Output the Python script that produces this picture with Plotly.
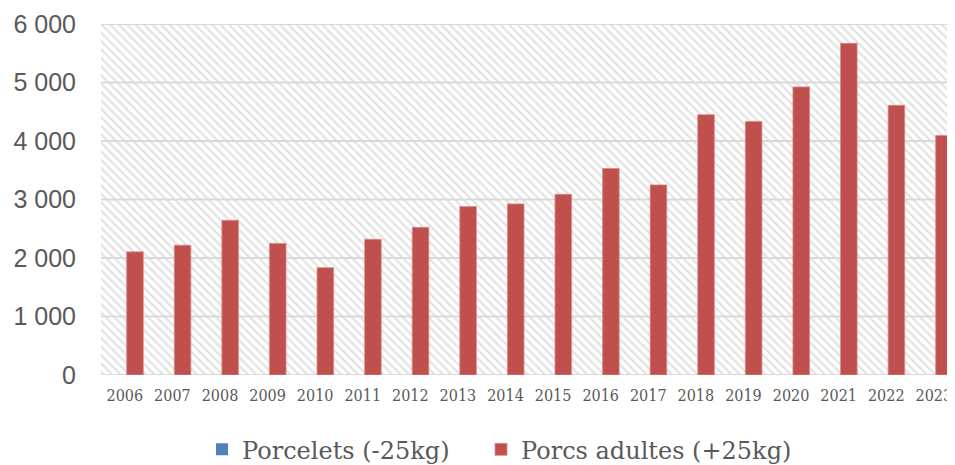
import plotly.graph_objects as go

years = ["2006", "2007", "2008", "2009", "2010", "2011", "2012", "2013", "2014",
         "2015", "2016", "2017", "2018", "2019", "2020", "2021", "2022", "2023"]
porcelets = [0, 0, 0, 0, 0, 0, 0, 0, 0, 0, 0, 0, 0, 0, 0, 0, 0, 0]
porcs_adultes = [2105, 2220, 2645, 2250, 1835, 2320, 2525, 2880, 2925,
                 3090, 3530, 3250, 4450, 4335, 4925, 5670, 4610, 4095]
y_ticks = [0, 1000, 2000, 3000, 4000, 5000, 6000]
y_tick_labels = ["0", "1 000", "2 000", "3 000", "4 000", "5 000", "6 000"]

TXT = "#595959"
GRID = "#d9d9d9"
n = len(years)
xpos = list(range(n))
y_max = y_ticks[-1]

fig = go.Figure()

# hatched plot background (base axes)
fig.add_trace(go.Bar(
    x=[-1], y=[y_max], base=0, width=[n + 2], offset=0,
    marker=dict(color="white", line=dict(width=0),
                pattern=dict(shape="\\", fgcolor="#c8c8c8", bgcolor="white",
                             size=6, solidity=0.4)),
    hoverinfo="skip", showlegend=False, xaxis="x", yaxis="y"))

# gridlines drawn above hatch
gx, gy = [], []
for v in y_ticks:
    gx += [-1, n + 1, None]
    gy += [v, v, None]
fig.add_trace(go.Scatter(x=gx, y=gy, mode="lines", line=dict(color=GRID, width=2),
                         hoverinfo="skip", showlegend=False, xaxis="x", yaxis="y"))

# actual data on overlaying axes
fig.add_trace(go.Bar(x=xpos, y=porcelets, name="Porcelets (-25kg)",
                     marker=dict(color="#4f81bd", line=dict(width=0)),
                     xaxis="x2", yaxis="y2", legend="legend"))
fig.add_trace(go.Bar(x=xpos, y=porcs_adultes, name="Porcs adultes (+25kg)",
                     marker=dict(color="#c0504d", line=dict(color="#d98c8a", width=0.8)),
                     xaxis="x2", yaxis="y2", legend="legend2"))

xr = [-0.5, 17.445]
legend_font = dict(family="DejaVu Serif", size=24, color=TXT)
fig.update_layout(
    width=947, height=457,
    margin=dict(l=93, r=0, t=16, b=90, autoexpand=False),
    paper_bgcolor="white", plot_bgcolor="white",
    barmode="group", bargap=0.144, bargroupgap=0.185,
    xaxis=dict(range=xr, tickvals=xpos, ticktext=years, showgrid=False,
               zeroline=False, showline=False, ticks="", ticklabelstandoff=9,
               automargin=False,
               tickfont=dict(family="DejaVu Serif Condensed", size=16, color=TXT)),
    yaxis=dict(range=[0, y_max], tickvals=y_ticks, ticktext=y_tick_labels,
               showgrid=False, zeroline=False, showline=False, ticks="",
               ticklabelstandoff=24, automargin=False,
               tickfont=dict(family="Liberation Sans", size=25, color=TXT)),
    xaxis2=dict(range=xr, overlaying="x", visible=False),
    yaxis2=dict(range=[0, y_max], overlaying="y", visible=False),
    legend=dict(orientation="h", x=0.1183, xanchor="left", y=-0.213,
                yanchor="middle", font=legend_font, bgcolor="rgba(0,0,0,0)"),
    legend2=dict(orientation="h", x=0.445, xanchor="left", y=-0.213,
                 yanchor="middle", font=legend_font, bgcolor="rgba(0,0,0,0)"),
    showlegend=True,
)

fig.write_html("out.html")
